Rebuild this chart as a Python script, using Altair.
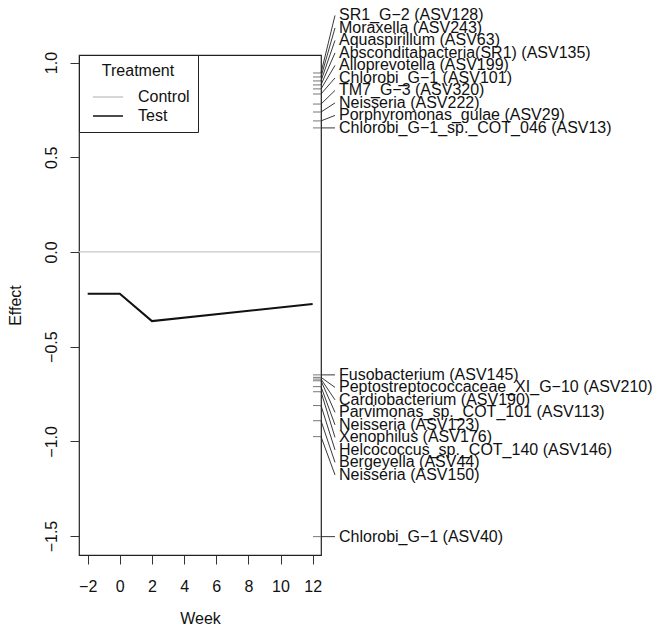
import altair as alt
import pandas as pd

# ---- data ----
weeks = [-2, 0, 2, 12]
test_effect = [-0.22, -0.22, -0.365, -0.275]
control_effect = [0.0]

taxa = [
    "SR1_G\u22122 (ASV128)",
    "Moraxella (ASV243)",
    "Aquaspirillum (ASV63)",
    "Absconditabacteria(SR1) (ASV135)",
    "Alloprevotella (ASV199)",
    "Chlorobi_G\u22121 (ASV101)",
    "TM7_G\u22123 (ASV320)",
    "Neisseria (ASV222)",
    "Porphyromonas_gulae (ASV29)",
    "Chlorobi_G\u22121_sp._COT_046 (ASV13)",
    "Fusobacterium (ASV145)",
    "Peptostreptococcaceae_XI_G\u221210 (ASV210)",
    "Cardiobacterium (ASV190)",
    "Parvimonas_sp._COT_101 (ASV113)",
    "Neisseria (ASV123)",
    "Xenophilus (ASV176)",
    "Helcococcus_sp._COT_140 (ASV146)",
    "Bergeyella (ASV44)",
    "Neisseria (ASV150)",
    "Chlorobi_G\u22121 (ASV40)",
]
taxa_effect = [
    0.945, 0.924, 0.903, 0.882, 0.861, 0.834, 0.781, 0.739, 0.692, 0.655,
    -0.649, -0.662, -0.671, -0.680, -0.711, -0.738, -0.811, -0.891, -0.975, -1.503,
]

x_ticks = [-2, 0, 2, 4, 6, 8, 10, 12]
y_ticks = [-1.5, -1.0, -0.5, 0.0, 0.5, 1.0]

# ---- layout ----
W, H = 242, 500
X_DOM = [-2.54, 12.52]
Y_DOM = [-1.6, 1.04]
FONT = "Liberation Sans"
FS = 16

# spread labels so they don't overlap (min gap in pixels -> data units)
gap = 12.5 / (H / (Y_DOM[1] - Y_DOM[0]))
label_pos = [None] * len(taxa)
pos_idx = sorted([i for i, v in enumerate(taxa_effect) if v > 0], key=lambda i: taxa_effect[i])
prev = None
for i in pos_idx:
    p = taxa_effect[i] if prev is None else max(taxa_effect[i], prev + gap)
    label_pos[i] = p
    prev = p
neg_idx = sorted([i for i, v in enumerate(taxa_effect) if v <= 0], key=lambda i: -taxa_effect[i])
prev = None
for i in neg_idx:
    p = taxa_effect[i] if prev is None else min(taxa_effect[i], prev - gap)
    label_pos[i] = p
    prev = p

df_test = pd.DataFrame({"week": weeks, "effect": test_effect, "Treatment": "Test"})
df_ctrl = pd.DataFrame({"effect": control_effect, "Treatment": "Control"})
df_taxa = pd.DataFrame({"name": taxa, "effect": taxa_effect, "label": label_pos})

yscale = alt.Scale(domain=Y_DOM, nice=False, zero=False)
xscale = alt.Scale(domain=X_DOM, nice=False, zero=False)
cscale = alt.Scale(domain=["Control", "Test"], range=["#c8c8c8", "#111111"])

yaxis = alt.Axis(
    title="Effect", values=y_ticks, format=".1f", labelAngle=-90,
    labelAlign="center", labelBaseline="bottom", tickSize=9, labelPadding=11,
    titlePadding=20, domain=False, grid=False,
)
xaxis = alt.Axis(
    title="Week", values=x_ticks, format="d", labelAngle=0, tickSize=9,
    labelPadding=14, titlePadding=16, domain=False, grid=False,
)

legend = alt.Legend(
    orient="top-left", offset=0, title="Treatment", symbolType="M-1.5,0H1.5",
    symbolSize=400, symbolStrokeWidth=1.5, symbolOffset=10, labelOffset=19,
    padding=8, rowPadding=0, columnPadding=0, titlePadding=7, titleAnchor="middle",
    strokeColor="#222222", fillColor="white", cornerRadius=0,
)

ctrl = alt.Chart(df_ctrl).mark_rule(strokeWidth=1.2).encode(
    y=alt.Y("effect:Q", scale=yscale, axis=yaxis),
    color=alt.Color("Treatment:N", scale=cscale, legend=legend),
)
test = alt.Chart(df_test).mark_line(strokeWidth=2).encode(
    x=alt.X("week:Q", scale=xscale, axis=xaxis),
    y=alt.Y("effect:Q", scale=yscale, axis=yaxis),
    color=alt.Color("Treatment:N", scale=cscale, legend=legend),
)
inner_ticks = alt.Chart(df_taxa).mark_rule(color="#777777", strokeWidth=1).encode(
    x=alt.value(W - 8), x2=alt.value(W),
    y=alt.Y("effect:Q", scale=yscale, axis=yaxis),
)
connectors = alt.Chart(df_taxa).mark_rule(color="#222222", strokeWidth=0.9).encode(
    x=alt.value(W), x2=alt.value(W + 14),
    y=alt.Y("effect:Q", scale=yscale, axis=yaxis),
    y2="label:Q",
)
labels = alt.Chart(df_taxa).mark_text(
    align="left", baseline="middle", font=FONT, fontSize=FS, color="#111111"
).encode(
    x=alt.value(W + 18),
    y=alt.Y("label:Q", scale=yscale, axis=yaxis),
    text="name:N",
)

chart = alt.layer(ctrl, test, inner_ticks, connectors, labels).properties(
    width=W, height=H,
    autosize=alt.AutoSizeParams(type="none"),
    padding={"left": 71, "top": 47, "right": 331, "bottom": 71},
).configure(font=FONT).configure_view(
    stroke="#222222", strokeWidth=1.2
).configure_axis(
    labelFont=FONT, titleFont=FONT, labelFontSize=FS, titleFontSize=FS,
    labelColor="#111111", titleColor="#111111", tickColor="#333333",
    titleFontWeight="normal", tickWidth=1,
).configure_legend(
    labelFont=FONT, titleFont=FONT, labelFontSize=FS, titleFontSize=FS,
    titleFontWeight="normal", labelColor="#111111", titleColor="#111111",
)

chart.save("out.html", embed_options={"renderer": "svg", "actions": False})
